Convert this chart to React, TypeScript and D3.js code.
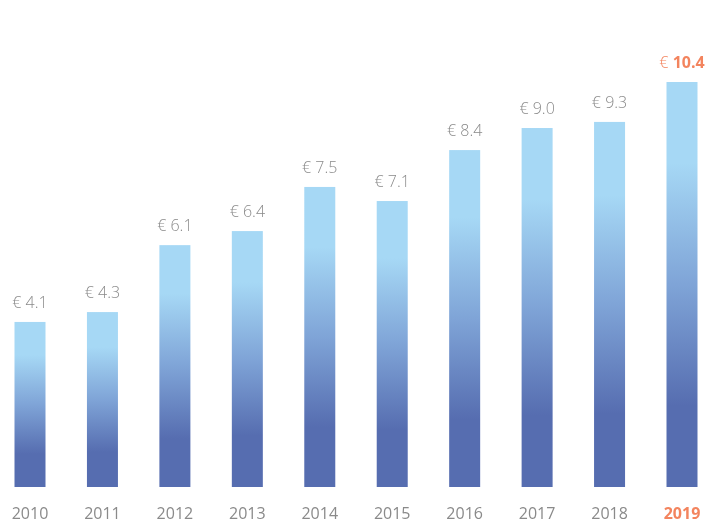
import React from "react";
import * as d3 from "d3";

const years = ["2010","2011","2012","2013","2014","2015","2016","2017","2018","2019"];
const labels = ["€ 4.1","€ 4.3","€ 6.1","€ 6.4","€ 7.5","€ 7.1","€ 8.4","€ 9.0","€ 9.3","€ 10.4"];
// bar heights
const values = [4.09, 4.35, 6.11, 6.48, 7.64, 7.27, 8.61, 9.19, 9.35, 10.4];

const W = 707, H = 521;

export default function App() {
  const x = d3.scalePoint<string>().domain(years).range([30, 682]);
  const y = d3.scaleLinear().domain([-0.25, 10.4]).range([487, 82]);
  const bw = 31;
  const gray = "#8a8a8a";
  const orange = "#f3845e";
  const font = "'Open Sans', sans-serif";
  return (
    <svg width={W} height={H} style={{ position: "fixed", left: 0, top: 0 }}>
      <defs>
        <linearGradient id="barGrad" x1="0" y1="0" x2="0" y2="1">
          <stop offset="0.2" stopColor="#a6d8f5" />
          <stop offset="0.5" stopColor="#7fa4d7" />
          <stop offset="0.8" stopColor="#566db0" />
        </linearGradient>
      </defs>
      {years.map((yr, i) => {
        const cx = x(yr)!;
        const top = y(values[i]);
        const last = i === years.length - 1;
        return (
          <g key={yr}>
            <rect x={cx - bw / 2} y={top} width={bw} height={y(-0.25) - top} fill="url(#barGrad)" />
            <text x={cx} y={top - 14} textAnchor="middle" fontFamily={font}
              fontSize={16} fontWeight={last ? 700 : 300} fill={last ? orange : gray}>
              {last ? (<><tspan fontWeight={300}>€ </tspan>10.4</>) : labels[i]}
            </text>
            <text x={cx} y={519} textAnchor="middle" fontFamily={font}
              fontSize={16} fontWeight={last ? 700 : 400} fill={last ? orange : gray}>
              {yr}
            </text>
          </g>
        );
      })}
    </svg>
  );
}
